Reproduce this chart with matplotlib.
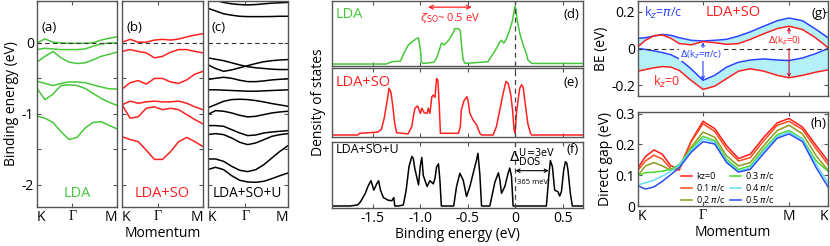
import numpy as np
import matplotlib.pyplot as plt

plt.rcParams['font.family'] = ['Open Sans', 'DejaVu Sans']
plt.rcParams['axes.unicode_minus'] = False
plt.rcParams['mathtext.fontset'] = 'dejavusans'

GREEN = '#46c83a'
RED = '#ff2020'
BLUE = '#2a44ff'
CYAN = '#b4f0f8'
FRAME = '#555555'

# ---------------- band structures (a)-(c), k from K (0) to M (1)
k_band = [0.0, 0.1, 0.2, 0.3, 0.4, 0.5, 0.6, 0.7, 0.8, 0.9, 1.0]

bands_lda = [
    [0.0, 0.057, 0.01, 0.0, -0.005, -0.005, -0.005, 0.0, 0.04, 0.066, 0.085],
    [-0.094, -0.075, -0.085, -0.094, -0.094, -0.094, -0.085, -0.047, -0.015, 0.0, 0.0],
    [-0.27, -0.19, -0.12, -0.21, -0.27, -0.29, -0.28, -0.24, -0.19, -0.16, -0.13],
    [-0.54, -0.57, -0.60, -0.57, -0.55, -0.55, -0.56, -0.59, -0.62, -0.645, -0.65],
    [-0.64, -0.80, -0.72, -0.60, -0.59, -0.60, -0.64, -0.71, -0.78, -0.835, -0.88],
    [-1.03, -1.06, -1.12, -1.25, -1.36, -1.33, -1.20, -1.12, -1.11, -1.16, -1.21],
]
bands_so = [
    [0.01, 0.05, 0.01, 0.01, 0.04, 0.05, 0.04, 0.055, 0.085, 0.11, 0.13],
    [-0.12, -0.094, -0.12, -0.14, -0.21, -0.19, -0.13, -0.094, -0.094, -0.12, -0.14],
    [-0.65, -0.56, -0.53, -0.58, -0.50, -0.50, -0.55, -0.57, -0.52, -0.44, -0.40],
    [-0.87, -0.82, -0.85, -0.83, -0.82, -0.83, -0.83, -0.82, -0.85, -0.90, -0.94],
    [-0.87, -1.06, -1.04, -0.92, -0.90, -0.94, -0.92, -0.94, -1.01, -1.08, -1.14],
    [-1.32, -1.36, -1.39, -1.51, -1.64, -1.64, -1.53, -1.39, -1.33, -1.39, -1.46],
]
bands_u = [
    [0.62, 0.60, 0.57, 0.55, 0.54, 0.535, 0.54, 0.55, 0.56, 0.565, 0.57],
    [0.49, 0.45, 0.41, 0.39, 0.375, 0.37, 0.37, 0.37, 0.372, 0.375, 0.375],
    [-0.21, -0.23, -0.25, -0.28, -0.31, -0.335, -0.35, -0.36, -0.37, -0.375, -0.375],
    [-0.305, -0.36, -0.40, -0.38, -0.35, -0.32, -0.29, -0.265, -0.25, -0.24, -0.235],
    [-0.516, -0.498, -0.484, -0.498, -0.526, -0.545, -0.545, -0.535, -0.521, -0.512, -0.507],
    [-0.66, -0.66, -0.665, -0.67, -0.675, -0.68, -0.68, -0.675, -0.67, -0.665, -0.66],
    [-0.915, -0.869, -0.822, -0.798, -0.793, -0.798, -0.812, -0.831, -0.854, -0.873, -0.892],
    [-1.009, -0.953, -0.962, -0.986, -1.019, -1.042, -1.033, -1.009, -0.986, -0.972, -0.962],
    [-1.164, -1.164, -1.174, -1.221, -1.268, -1.305, -1.296, -1.268, -1.254, -1.244, -1.235],
    [-1.291, -1.277, -1.291, -1.338, -1.399, -1.432, -1.408, -1.362, -1.315, -1.291, -1.277],
    [-1.634, -1.634, -1.667, -1.737, -1.793, -1.812, -1.784, -1.714, -1.620, -1.526, -1.446],
    [-1.784, -1.751, -1.784, -1.869, -1.934, -1.958, -1.962, -1.948, -1.911, -1.869, -1.831],
]

# ---------------- density of states (d)-(f)
e_lda = [-1.93, -1.36, -1.30, -1.21, -1.17, -1.13, -1.09, -1.04, -1.02, -1.00,
         -0.99, -0.97, -0.86, -0.83, -0.79, -0.78, -0.75, -0.72, -0.69, -0.65,
         -0.64, -0.60, -0.58, -0.57, -0.55, -0.53, -0.29, -0.235, -0.20, -0.165,
         -0.147, -0.123, -0.094, -0.06, -0.03, -0.007, 0.003, 0.017, 0.045, 0.08,
         0.115, 0.13, 0.17, 0.71]
dos_lda = [0, 0, 0.04, 0.05, 0.2, 0.32, 0.38, 0.44, 0.45, 0.24,
           0.04, 0.01, 0.03, 0.10, 0.30, 0.36, 0.33, 0.38, 0.44, 0.56,
           0.61, 0.61, 0.57, 0.36, 0.07, 0.01, 0.04, 0.18, 0.27, 0.38,
           0.41, 0.36, 0.44, 0.59, 0.76, 0.99, 0.96, 0.76, 0.53, 0.33,
           0.18, 0.07, 0.01, 0.01]

e_so = [-1.93, -1.66, -1.64, -1.45, -1.41, -1.38, -1.35, -1.33, -1.31, -1.29,
        -1.27, -1.25, -1.13, -1.09, -1.075, -1.057, -1.03, -1.0, -0.985, -0.96,
        -0.93, -0.917, -0.90, -0.88, -0.865, -0.847, -0.83, -0.816, -0.80, -0.79,
        -0.60, -0.58, -0.57, -0.54, -0.51, -0.50, -0.48, -0.445, -0.41, -0.375,
        -0.357, -0.235, -0.20, -0.165, -0.13, -0.10, -0.078, -0.052, -0.031, -0.015,
        -0.004, 0.01, 0.027, 0.045, 0.063, 0.08, 0.098, 0.115, 0.13, 0.157,
        0.17, 0.71]
dos_so = [0, 0, 0.03, 0.05, 0.10, 0.30, 0.60, 0.82, 0.75, 0.50,
          0.20, 0.04, 0.02, 0.15, 0.32, 0.47, 0.51, 0.38, 0.47, 0.39,
          0.38, 0.47, 0.38, 0.67, 0.70, 0.66, 0.99, 0.96, 0.44, 0.03,
          0.03, 0.15, 0.44, 0.61, 0.67, 0.61, 0.38, 0.26, 0.18, 0.03,
          0.0, 0.0, 0.15, 0.44, 0.73, 0.94, 0.91, 0.73, 0.44, 0.09,
          0.03, 0.38, 0.61, 0.82, 0.88, 0.84, 0.61, 0.38, 0.20, 0.03,
          0.0, 0.0]

e_u = [-1.93, -1.74, -1.66, -1.63, -1.58, -1.55, -1.52, -1.49, -1.46, -1.44,
       -1.42, -1.39, -1.34, -1.30, -1.28, -1.27, -1.23, -1.18, -1.15, -1.12,
       -1.09, -1.075, -1.06, -1.04, -1.02, -1.0, -0.985, -0.97, -0.93, -0.90,
       -0.865, -0.847, -0.83, -0.81, -0.795, -0.78, -0.65, -0.62, -0.585, -0.55,
       -0.515, -0.48, -0.445, -0.41, -0.395, -0.375, -0.357, -0.27, -0.217, -0.18,
       -0.165, -0.147, -0.112, -0.078, -0.06, -0.042, -0.025, 0.325, 0.353, 0.367,
       0.388, 0.412, 0.447, 0.465, 0.483, 0.507, 0.525, 0.54, 0.552, 0.577,
       0.598, 0.71]
dos_u = [0, 0, 0.02, 0.08, 0.24, 0.38, 0.48, 0.30, 0.42, 0.48,
         0.30, 0.16, 0.11, 0.10, 0.16, 0.0, 0.0, 0.02, 0.30, 0.75,
         0.94, 0.90, 0.72, 0.56, 0.40, 0.78, 0.92, 0.58, 0.37, 0.48,
         0.42, 0.52, 0.74, 0.80, 0.49, 0.0, 0.0, 0.37, 0.62, 0.49,
         0.18, 0.37, 0.62, 0.87, 1.0, 0.6, 0.0, 0.0, 0.45, 0.63,
         0.5, 0.24, 0.37, 0.62, 0.72, 0.56, 0.0, 0.0, 0.62, 0.86,
         0.75, 0.30, 0.27, 0.19, 0.27, 0.68, 0.84, 0.81, 0.68, 0.24,
         0.0, 0.0]

# ---------------- band edges (g) and direct gap (h), path K-Gamma-M-K
k_path = [0, 0.039, 0.084, 0.128, 0.173, 0.217, 0.279, 0.342, 0.404, 0.466,
          0.529, 0.591, 0.662, 0.733, 0.795, 0.866, 0.938, 1.0]
cb_pi = [0.056, 0.059, 0.068, 0.077, 0.072, 0.059, 0.045, 0.041, 0.045, 0.05,
         0.068, 0.091, 0.122, 0.152, 0.167, 0.152, 0.104, 0.059]
cb_0 = [0.01, 0.045, 0.07, 0.074, 0.056, 0.027, 0.02, 0.038, 0.032, 0.023,
        0.027, 0.05, 0.081, 0.109, 0.122, 0.104, 0.056, 0.005]
vb_pi = [0.0, -0.005, -0.013, -0.022, -0.034, -0.057, -0.111, -0.174, -0.147, -0.102,
         -0.075, -0.063, -0.057, -0.063, -0.066, -0.052, -0.027, 0.0]
vb_0 = [-0.124, -0.115, -0.106, -0.099, -0.102, -0.12, -0.174, -0.224, -0.206, -0.165,
        -0.124, -0.111, -0.124, -0.147, -0.16, -0.147, -0.129, -0.117]

gap_labels = ['kz=0', r'0.1 $\pi$/c', r'0.2 $\pi$/c', r'0.3 $\pi$/c', r'0.4 $\pi$/c', r'0.5 $\pi$/c']
gap_colors = ['#ff1a1a', '#ff4a1c', '#8c9c1c', '#4ed82c', '#62dcf8', '#2a4cf0']
gaps = [
    [0.124, 0.160, 0.182, 0.168, 0.130, 0.121, 0.210, 0.275, 0.251, 0.196, 0.154, 0.168, 0.223, 0.270, 0.284, 0.256, 0.196, 0.146],
    [0.116, 0.146, 0.165, 0.152, 0.121, 0.116, 0.207, 0.267, 0.242, 0.185, 0.146, 0.157, 0.212, 0.262, 0.275, 0.248, 0.185, 0.135],
    [0.099, 0.130, 0.141, 0.130, 0.116, 0.124, 0.190, 0.240, 0.223, 0.163, 0.130, 0.141, 0.196, 0.245, 0.262, 0.234, 0.163, 0.116],
    [0.099, 0.108, 0.110, 0.113, 0.119, 0.135, 0.185, 0.226, 0.212, 0.152, 0.119, 0.130, 0.185, 0.231, 0.245, 0.218, 0.146, 0.113],
    [0.069, 0.075, 0.084, 0.097, 0.113, 0.132, 0.179, 0.218, 0.207, 0.146, 0.113, 0.124, 0.179, 0.226, 0.240, 0.216, 0.135, 0.075],
    [0.066, 0.055, 0.062, 0.080, 0.102, 0.124, 0.174, 0.209, 0.201, 0.141, 0.110, 0.119, 0.171, 0.220, 0.234, 0.209, 0.124, 0.062],
]


def rect(x0, y0, x1, y1):
    return [x0 / 830, 1 - y1 / 246, (x1 - x0) / 830, (y1 - y0) / 246]


def frame(ax):
    for s in ax.spines.values():
        s.set_color(FRAME)
        s.set_linewidth(1.0)
    ax.tick_params(direction='in', top=True, right=True, length=3,
                   color=FRAME, labelsize=10, pad=2)


def k_labels(ax, names):
    # end labels sit inside the panel edges, Gamma in a serif face
    ax.set_xticklabels(names)
    labs = ax.get_xticklabels()
    labs[0].set_ha('left')
    labs[-1].set_ha('right')
    labs[1].set_fontfamily('Liberation Serif')


fig = plt.figure(figsize=(8.3, 2.46), dpi=100)

# ---- (a)-(c)
band_panels = [
    (rect(37, 1, 117, 207), bands_lda, GREEN, 'LDA', '(a)', 0.44),
    (rect(122, 1, 203, 207), bands_so, RED, 'LDA+SO', '(b)', 0.44),
    (rect(207.5, 1, 288, 207), bands_u, 'black', 'LDA+SO+U', '(c)', 0.47),
]
for i, (r, bands, col, name, tag, g_pos) in enumerate(band_panels):
    ax = fig.add_axes(r)
    for b in bands:
        ax.plot(k_band, b, color=col, lw=1.1)
    ax.axhline(0, color='#333333', lw=0.8, ls=(0, (4, 3)))
    ax.set_xlim(0, 1)
    ax.set_ylim(-2.31, 0.59)
    ax.set_xticks([0, g_pos, 1])
    k_labels(ax, ['K', 'Γ', 'M'])
    ax.set_yticks([-2, -1.5, -1, -0.5, 0])
    frame(ax)
    if i == 0:
        ax.set_yticklabels(['-2', '', '-1', '', '0'])
        ax.set_ylabel('Binding energy (eV)', fontsize=10, labelpad=2)
    else:
        ax.set_yticklabels([])
    if i == 1:
        ax.set_xlabel('Momentum', fontsize=10, labelpad=1)
    ax.text(0.05, 0.87, tag, transform=ax.transAxes, fontsize=9.5, va='center')
    ax.text(0.5, 0.065, name, transform=ax.transAxes, fontsize=10.5 if i < 2 else 9.8,
            color=col, ha='center', va='center')

# ---- (d)-(f)
dos_panels = [
    (rect(332, 1, 583, 66), e_lda, dos_lda, GREEN, 'LDA', '(d)', (-0.034, 1.086), 0.8),
    (rect(332, 68, 583, 137), e_so, dos_so, RED, 'LDA+SO', '(e)', (-0.035, 1.175), 0.79),
    (rect(332, 142, 583, 208), e_u, dos_u, 'black', 'LDA+SO+U', '(f)', (-0.038, 1.214), 0.89),
]
dos_axes = []
for i, (r, e, d, col, name, tag, yl, ty) in enumerate(dos_panels):
    ax = fig.add_axes(r)
    ax.plot(e, d, color=col, lw=1.1)
    ax.axvline(0, color='#444444', lw=0.9, ls=(0, (4, 3)))
    ax.set_xlim(-1.93, 0.71)
    ax.set_ylim(*yl)
    ax.set_yticks([])
    ax.set_xticks([-1.5, -1.0, -0.5, 0, 0.5])
    frame(ax)
    ax.tick_params(right=False)
    if i == 2:
        ax.set_xticklabels(['-1.5', '-1.0', '-0.5', '0', '0.5'])
        ax.set_xlabel('Binding energy (eV)', fontsize=10, labelpad=1)
    else:
        ax.set_xticklabels([])
    ax.text(0.015, ty, name, transform=ax.transAxes, color=col,
            fontsize=10.5 if i < 2 else 9, va='center')
    ax.text(0.985, ty, tag, transform=ax.transAxes, fontsize=9.5, ha='right', va='center')
    dos_axes.append(ax)

ax_d, ax_e, ax_f = dos_axes
ax_e.set_ylabel('Density of states', fontsize=10, labelpad=4)
ax_d.annotate('', xy=(-0.92, 0.98), xytext=(-0.46, 0.98),
              arrowprops=dict(arrowstyle='<->', color=RED, lw=0.9, shrinkA=0, shrinkB=0,
                              mutation_scale=7))
ax_d.text(-0.69, 0.8, r'$\zeta_{\mathrm{SO}}$~ 0.5 eV', color=RED, fontsize=8, ha='center', va='center')
ax_f.annotate('', xy=(0.0, 0.67), xytext=(0.35, 0.67),
              arrowprops=dict(arrowstyle='<->', color='black', lw=0.8, shrinkA=0, shrinkB=0,
                              mutation_scale=6))
ax_f.text(0.175, 0.92, r'$\Delta_{\mathrm{DOS}}^{\mathrm{U\!=\!3eV}}$', fontsize=10,
          ha='center', va='center')
ax_f.text(0.175, 0.45, '365 meV', fontsize=5.5, ha='center', va='center')

# ---- (g)
ax_g = fig.add_axes(rect(638, 1, 828, 96))
ax_g.fill_between(k_path, cb_pi, cb_0, color=CYAN, lw=0)
ax_g.fill_between(k_path, vb_pi, vb_0, color=CYAN, lw=0)
ax_g.plot(k_path, cb_pi, color=BLUE, lw=1.1)
ax_g.plot(k_path, vb_pi, color=BLUE, lw=1.1)
ax_g.plot(k_path, cb_0, color=RED, lw=1.1)
ax_g.plot(k_path, vb_0, color=RED, lw=1.1)
ax_g.axhline(0, color='#333333', lw=0.8, ls=(0, (4, 3)))
ax_g.set_xlim(0, 1)
ax_g.set_ylim(-0.26, 0.26)
ax_g.set_yticks([-0.2, 0, 0.2])
ax_g.set_yticklabels(['-0.2', '0', '0.2'])
ax_g.set_xticks([0, 0.342, 0.795, 1])
ax_g.set_xticklabels([])
frame(ax_g)
ax_g.set_ylabel('BE (eV)', fontsize=10, labelpad=2)
ax_g.text(0.03, 0.87, r'k$_z$=$\pi$/c', transform=ax_g.transAxes, color=BLUE, fontsize=9, va='center')
ax_g.text(0.5, 0.88, 'LDA+SO', transform=ax_g.transAxes, color=RED, fontsize=10.5,
          ha='center', va='center')
ax_g.text(0.95, 0.87, '(g)', transform=ax_g.transAxes, fontsize=9.5, ha='center', va='center')
ax_g.text(0.08, 0.15, r'k$_z$=0', transform=ax_g.transAxes, color=RED, fontsize=9, va='center')
ax_g.annotate('', xy=(0.342, 0.034), xytext=(0.342, -0.174),
              arrowprops=dict(arrowstyle='<->', color=BLUE, lw=0.8, shrinkA=0, shrinkB=0,
                              mutation_scale=5))
ax_g.text(0.33, -0.034, r'$\Delta$(k$_z$=$\pi$/c)', color=BLUE, fontsize=6.8,
          ha='center', va='center', bbox=dict(fc='white', ec='none', pad=0.3))
ax_g.annotate('', xy=(0.795, 0.118), xytext=(0.795, -0.158),
              arrowprops=dict(arrowstyle='<->', color='#c01030', lw=0.8, shrinkA=0, shrinkB=0,
                              mutation_scale=5))
ax_g.text(0.77, 0.041, r'$\Delta$(k$_z$=0)', color=RED, fontsize=6.8,
          ha='center', va='center', bbox=dict(fc='white', ec='none', pad=0.3))

# ---- (h)
ax_h = fig.add_axes(rect(638, 112, 828, 206))
for g, c, lab in zip(gaps, gap_colors, gap_labels):
    ax_h.plot(k_path, g, color=c, lw=1.1, label=lab)
ax_h.set_xlim(0, 1)
ax_h.set_ylim(0, 0.305)
ax_h.set_yticks([0, 0.1, 0.2, 0.3])
ax_h.set_yticklabels(['0', '0.1', '0.2', '0.3'])
ax_h.set_xticks([0, 0.342, 0.795, 1])
k_labels(ax_h, ['K', 'Γ', 'M', 'K'])
frame(ax_h)
ax_h.set_ylabel('Direct gap (eV)', fontsize=10, labelpad=2)
ax_h.set_xlabel('Momentum', fontsize=10, labelpad=1)
ax_h.text(0.95, 0.88, '(h)', transform=ax_h.transAxes, fontsize=9.5, ha='center', va='center')
ax_h.legend(ncol=2, loc='upper left', bbox_to_anchor=(0.2, 0.44), fontsize=6.5,
            frameon=False, handlelength=1.2, columnspacing=0.5, labelspacing=0.12,
            handletextpad=0.4, borderpad=0.1)

fig.savefig('out.png', dpi=100)
